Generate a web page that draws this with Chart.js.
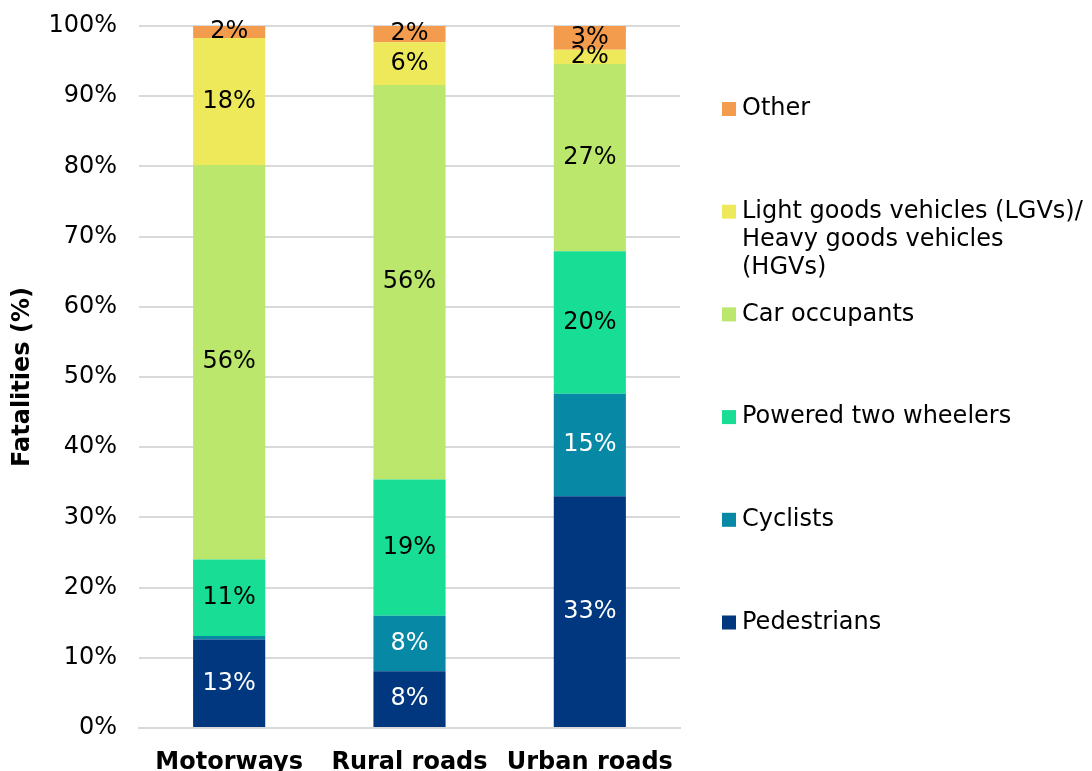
<!DOCTYPE html>
<html>
<head>
<meta charset="utf-8">
<script src="https://cdn.jsdelivr.net/npm/chart.js@4.4.1/dist/chart.umd.min.js"></script>
<style>
  html, body { margin: 0; padding: 0; background: #fff; }
  #wrap { width: 1092px; height: 771px; position: relative; }
</style>
</head>
<body>
<div id="wrap"><canvas id="myChart"></canvas></div>
<script>
const roads = ['Motorways', 'Rural roads', 'Urban roads']
const yTicks = [0, 10, 20, 30, 40, 50, 60, 70, 80, 90, 100]

// shares in %, bottom to top
const pedestrians = [12.6, 8.1, 33.0]
const cyclists = [0.5, 7.9, 14.6]
const poweredTwo = [10.9, 19.4, 20.3]
const carOccupants = [56.2, 56.2, 26.7]
const goodsVehicles = [18.1, 6.1, 2.0]
const other = [1.7, 2.3, 3.4]

const seriesNames = ['Pedestrians', 'Cyclists', 'Powered two wheelers', 'Car occupants',
    'Light goods vehicles (LGVs)/ Heavy goods vehicles (HGVs)', 'Other']
const legendLines = [['Pedestrians'], ['Cyclists'], ['Powered two wheelers'], ['Car occupants'],
    ['Light goods vehicles (LGVs)/', 'Heavy goods vehicles', '(HGVs)'], ['Other']]
const colors = ['#00377f', '#0789a6', '#18dd94', '#bae76c', '#eee95a', '#f39c4d']
const labelColors = ['#fff', '#fff', '#000', '#000', '#000', '#000']

const FONT = '"DejaVu Sans", Verdana, sans-serif'

const allSeries = [pedestrians, cyclists, poweredTwo, carOccupants, goodsVehicles, other]

// draws the % text inside each segment
const segLabels = {
    id: 'segLabels',
    afterDatasetsDraw(chart) {
        const ctx = chart.ctx
        ctx.save()
        ctx.font = '24px ' + FONT
        ctx.textAlign = 'center'
        ctx.textBaseline = 'middle'
        chart.data.datasets.forEach((ds, i) => {
            chart.getDatasetMeta(i).data.forEach((bar, j) => {
                const v = ds.data[j]
                if (v < 1) return
                ctx.fillStyle = labelColors[i]
                ctx.fillText(Math.round(v) + '%', bar.x, (bar.y + bar.base) / 2)
            })
        })
        ctx.restore()
    }
}

// legend on the right, top entry = last series
const sideLegend = {
    id: 'sideLegend',
    afterDraw(chart) {
        const ctx = chart.ctx
        ctx.save()
        ctx.font = '24px ' + FONT
        ctx.textBaseline = 'middle'
        ctx.textAlign = 'left'
        const n = colors.length
        for (let k = 0; k < n; k++) {
            const i = n - 1 - k
            const y = 109 + k * 102.7
            ctx.fillStyle = colors[i]
            ctx.fillRect(722, y - 7, 14, 14)
            ctx.fillStyle = '#000'
            legendLines[i].forEach((line, m) => {
                ctx.fillText(line, 742, y + m * 28)
            })
        }
        ctx.restore()
    }
}

new Chart(document.getElementById('myChart'), {
    type: 'bar',
    data: {
        labels: roads,
        datasets: allSeries.map((d, i) => ({
            label: seriesNames[i],
            data: d,
            backgroundColor: colors[i],
            borderWidth: 0,
            barPercentage: 0.4,
            categoryPercentage: 1
        }))
    },
    options: {
        responsive: true,
        maintainAspectRatio: false,
        animation: false,
        layout: { padding: { top: 26, right: 412, left: 0, bottom: 0 } },
        plugins: {
            legend: { display: false },
            tooltip: { enabled: false }
        },
        scales: {
            x: {
                stacked: true,
                grid: { display: false },
                border: { color: '#d9d9d9', width: 2 },
                ticks: {
                    color: '#000',
                    font: { family: FONT, size: 24, weight: 'bold' },
                    padding: 12,
                    maxRotation: 0
                },
                afterFit(scale) { scale.height = 43 }
            },
            y: {
                stacked: true,
                min: 0,
                max: 100,
                afterBuildTicks(scale) { scale.ticks = yTicks.map(v => ({ value: v })) },
                grid: { color: '#d9d9d9', lineWidth: 2, drawTicks: false },
                border: { display: false },
                ticks: {
                    color: '#000',
                    font: { family: FONT, size: 24 },
                    padding: 22,
                    callback: v => v + '%'
                },
                title: {
                    display: true,
                    text: 'Fatalities (%)',
                    color: '#000',
                    font: { family: FONT, size: 24, weight: 'bold' },
                    padding: { top: 8, bottom: 0 }
                },
                afterFit(scale) {
                    scale.width = 139
                    scale.paddingTop = 0
                    scale.paddingBottom = 0
                }
            }
        }
    },
    plugins: [segLabels, sideLegend]
})
</script>
</body>
</html>
